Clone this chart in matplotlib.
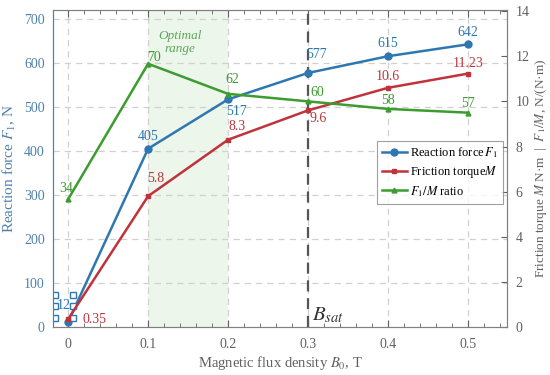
import matplotlib
matplotlib.use("Agg")
import matplotlib.pyplot as plt
from matplotlib.ticker import MultipleLocator

# ---- data ----
B0 = [0.0, 0.1, 0.2, 0.3, 0.4, 0.5]
F1 = [12, 405, 517, 577, 615, 642]          # N, left axis
M = [0.35, 5.8, 8.3, 9.6, 10.6, 11.23]       # N·m, right axis
ratio = [34, 70, 62, 60, 58, 57]             # F1/M, shown on right axis scaled by 1/6
ratio_scale = 6.0
F1_labels = ["12", "405", "517", "577", "615", "642"]
M_labels = ["0.35", "5.8", "8.3", "9.6", "10.6", "11.23"]
ratio_labels = ["34", "70", "62", "60", "58", "57"]
x_ticks = [0, 0.1, 0.2, 0.3, 0.4, 0.5]
x_tick_labels = ["0", "0.1", "0.2", "0.3", "0.4", "0.5"]
left_ticks = [0, 100, 200, 300, 400, 500, 600, 700]
right_ticks = [0, 2, 4, 6, 8, 10, 12, 14]

BLUE = "#2f77b0"
RED = "#c0333b"
GREEN = "#3c9c30"
GRAY = "#606060"
TBLUE = "#4f80ad"

plt.rcParams['font.family'] = ['Liberation Serif', 'DejaVu Serif']
plt.rcParams['mathtext.fontset'] = 'stix'

fig = plt.figure(figsize=(5.5, 3.75), dpi=100)
ax = fig.add_axes([53/550, 1-327/375, (507-53)/550, (327-10)/375])
ax2 = ax.twinx()

ax.set_xlim(-0.019, 0.549)
ax.set_ylim(0, 720)
ax2.set_ylim(0, 14.05)

# shaded optimal range
ax.axvspan(0.1, 0.2, color="#eaf6e8", alpha=0.9, zorder=0, lw=0)

# grid
for xv in x_ticks:
    ax.axvline(xv, color="#d0d0d0", ls=(0, (5, 4)), lw=0.9, zorder=1)
for yv in left_ticks[1:]:
    ax.axhline(yv, color="#d0d0d0", ls=(0, (5, 4)), lw=0.9, zorder=1)
ax.axvline(0.3, color="#555555", ls=(0, (5, 3)), lw=1.6, zorder=2)

# lines
l1, = ax.plot(B0, F1, color=BLUE, marker="o", ms=5, lw=1.8, zorder=5,
              label=r"Reaction force$\,F_1$")
l2, = ax2.plot(B0, M, color=RED, marker="s", ms=3.5, lw=1.8, zorder=5,
               label=r"Friction torque$M$")
l3, = ax2.plot(B0, [r / ratio_scale for r in ratio], color=GREEN, marker="^", ms=3.5,
               lw=1.8, zorder=5, label=r"$F_1/M$ ratio")

fs = 10
# F1 labels (left axis coords)
F1_pos = [(-0.005, 48), (0.1, 432), (0.211, 489), (0.311, 620), (0.4, 643), (0.5, 670)]
for (x, y), t in zip(F1_pos, F1_labels):
    ax.text(x, y, t, color=BLUE, fontsize=fs, ha="center", va="center")
M_pos = [(0.033, 0.35), (0.109, 6.6), (0.211, 8.9), (0.313, 9.25), (0.4, 11.1), (0.5, 11.7)]
for (x, y), t in zip(M_pos, M_labels):
    ax2.text(x, y, t, color=RED, fontsize=fs, ha="center", va="center")
R_pos = [(-0.002, 6.15), (0.107, 11.95), (0.205, 10.97), (0.311, 10.4), (0.4, 10.04), (0.5, 9.9)]
for (x, y), t in zip(R_pos, ratio_labels):
    ax2.text(x, y, t, color=GREEN, fontsize=fs, ha="center", va="center")

# selection-handle squares around the "12" label
hx = [-0.016, 0.006]
hy = [20, 48, 72]
for xx in hx:
    ax.plot([xx] * 3, hy, ls="none", marker="s", ms=4, mfc="white", mec=BLUE,
            mew=1.0, zorder=6)

ax.text(0.14, 647, "Optimal\nrange", color="#5aa85a", fontsize=9.5, style="italic",
        ha="center", va="center", linespacing=1.1)
ax.text(0.305, 27, r"$B_{sat}$", fontsize=15, color="#333333", ha="left", va="center")

# ticks
ax.set_xticks(x_ticks)
ax.set_xticklabels(x_tick_labels)
ax.xaxis.set_minor_locator(MultipleLocator(0.02))
ax.tick_params(axis="x", which="both", direction="in", top=True, colors=GRAY,
               labelsize=10, pad=8)
ax.tick_params(axis="x", which="major", length=5)
ax.tick_params(axis="x", which="minor", length=3)
ax.set_yticks(left_ticks)
ax.tick_params(axis="y", direction="in", length=0, labelcolor=TBLUE, labelsize=10, pad=6)
ax2.set_yticks(right_ticks)
ax2.tick_params(axis="y", direction="in", length=4, labelcolor=GRAY, color=GRAY,
                labelsize=10, pad=6)

for s in ["top", "right", "bottom"]:
    ax.spines[s].set_color("#808080")
    ax2.spines[s].set_color("#808080")
ax.spines["left"].set_color(TBLUE)
ax2.spines["left"].set_color(TBLUE)

ax.set_xlabel(r"Magnetic flux density $B_{0}$, T", color=GRAY, fontsize=10.5, labelpad=2)
ax.set_ylabel(r"Reaction force $F_1$, N", color=TBLUE, fontsize=11, labelpad=4)
ax2.set_ylabel(r"Friction torque $M$ N·m  |  $F_1/M$, N/(N·m)", color=GRAY,
               fontsize=9.5, labelpad=3)

leg = ax2.legend(handles=[l1, l2, l3], loc="upper right", bbox_to_anchor=(1.0, 0.6),
                 fontsize=9, frameon=True, fancybox=False, edgecolor="#888888",
                 handlelength=2.0, borderpad=0.4, labelspacing=0.3, handletextpad=0.3,
                 borderaxespad=0.3)
leg.get_frame().set_linewidth(0.8)
leg.set_zorder(10)

fig.savefig("out.png", dpi=100)
